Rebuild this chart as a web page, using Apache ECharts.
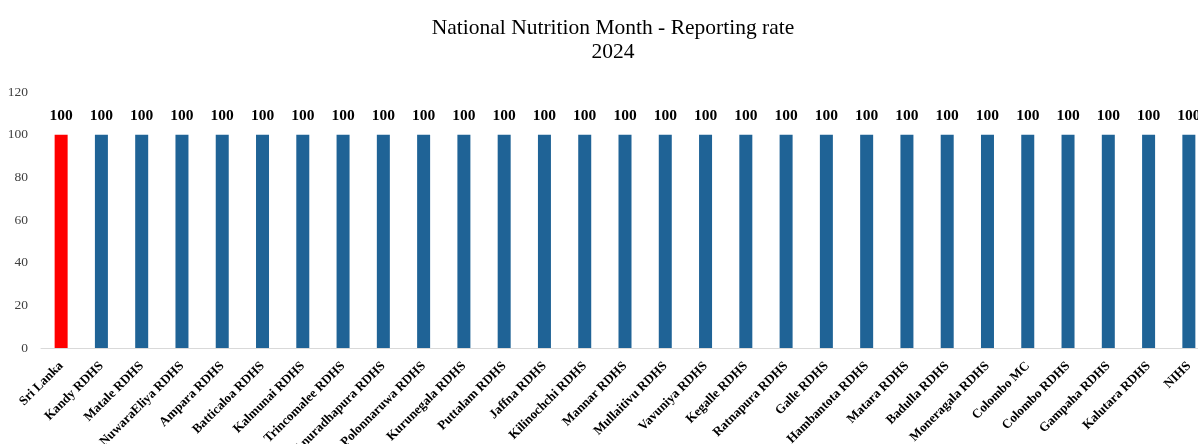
<!DOCTYPE html>
<html>
<head>
<meta charset="utf-8">
<script src="https://cdn.jsdelivr.net/npm/echarts@6/dist/echarts.min.js"></script>
<style>
  html, body { margin: 0; padding: 0; background: #fff; }
  #chart { width: 1198px; height: 444px; }
</style>
</head>
<body>
<div id="chart"></div>
<script>
const districts = [
  "Sri Lanka", "Kandy RDHS", "Matale RDHS", "NuwaraEliya RDHS", "Ampara RDHS",
  "Batticaloa RDHS", "Kalmunai RDHS", "Trincomalee RDHS", "Anuradhapura RDHS",
  "Polonnaruwa RDHS", "Kurunegala RDHS", "Puttalam RDHS", "Jaffna RDHS",
  "Kilinochchi RDHS", "Mannar RDHS", "Mullaitivu RDHS", "Vavuniya RDHS",
  "Kegalle RDHS", "Ratnapura RDHS", "Galle RDHS", "Hambantota RDHS",
  "Matara RDHS", "Badulla RDHS", "Moneragala RDHS", "Colombo MC",
  "Colombo RDHS", "Gampaha RDHS", "Kalutara RDHS", "NIHS"
];
const reportingRate = [
  100, 100, 100, 100, 100, 100, 100, 100, 100, 100,
  100, 100, 100, 100, 100, 100, 100, 100, 100, 100,
  100, 100, 100, 100, 100, 100, 100, 100, 100
];
const nationalName = "Sri Lanka";

const chart = echarts.init(document.getElementById("chart"));
const serif = "'Liberation Serif', 'Times New Roman', serif";

const option = {
  animation: false,
  title: {
    text: "National Nutrition Month - Reporting rate\n2024",
    left: 608,
    top: 11,
    textAlign: "center",
    textStyle: {
      fontFamily: serif,
      fontSize: 21.5,
      fontWeight: "normal",
      color: "#000",
      lineHeight: 24
    }
  },
  grid: {
    left: 41,
    width: 1168,
    top: 92,
    bottom: 96,
    containLabel: false,
    outerBoundsMode: "none"
  },
  xAxis: {
    type: "category",
    data: districts,
    axisTick: { show: false },
    axisLine: { lineStyle: { color: "#d9d9d9", width: 1 } },
    axisLabel: {
      interval: 0,
      rotate: 45,
      margin: 16,
      fontFamily: serif,
      fontSize: 13,
      fontWeight: "bold",
      color: "#000"
    }
  },
  yAxis: {
    type: "value",
    min: 0,
    max: 120,
    interval: 20,
    axisLine: { show: false },
    axisTick: { show: false },
    splitLine: { show: false },
    axisLabel: {
      margin: 13,
      fontFamily: serif,
      fontSize: 13.5,
      color: "#404040"
    }
  },
  series: [
    {
      type: "bar",
      barWidth: 13,
      data: reportingRate.map((v, i) => ({
        value: v,
        itemStyle: { color: districts[i] === nationalName ? "#ff0000" : "#1f6396" }
      })),
      label: {
        show: true,
        position: "top",
        distance: 11,
        fontFamily: serif,
        fontSize: 15.5,
        fontWeight: "bold",
        color: "#000"
      }
    }
  ]
};

chart.setOption(option);
</script>
</body>
</html>
